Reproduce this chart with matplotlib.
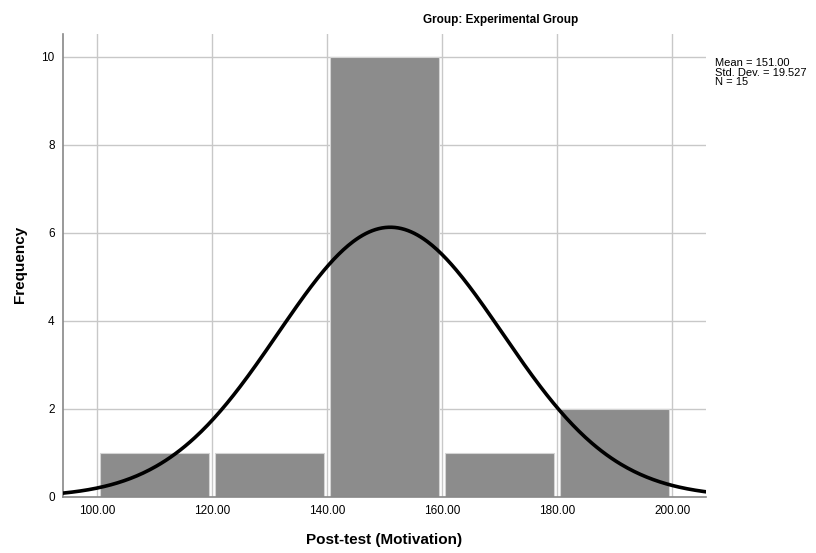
import numpy as np
import matplotlib.pyplot as plt

plt.rcParams['font.family'] = ['Liberation Sans', 'DejaVu Sans']

# histogram bins (left edges) and counts
bin_left = [100, 120, 140, 160, 180]
counts = [1, 1, 10, 1, 2]
bin_width = 20

mean = 151.00
std = 19.527
n = 15

xticks = [100, 120, 140, 160, 180, 200]
yticks = [0, 2, 4, 6, 8, 10]

fig = plt.figure(figsize=(8.16, 5.53), dpi=100)
ax = fig.add_axes([0.0772, 0.1013, 0.7880, 0.8372])

gap = 0.6
ax.bar([b + gap for b in bin_left], counts, width=bin_width - 2 * gap, align='edge',
       color='#8c8c8c', edgecolor='#d4d4d4', linewidth=0.8, zorder=2)

# normal curve scaled to the histogram
x = np.linspace(94, 206, 400)
y = n * bin_width / (std * np.sqrt(2 * np.pi)) * np.exp(-0.5 * ((x - mean) / std) ** 2)
ax.plot(x, y, color='black', linewidth=2.6, zorder=3)

ax.set_xlim(94.1, 205.9)
ax.set_ylim(0, 10.52)
ax.set_xticks(xticks)
ax.set_xticklabels([f'{t:.2f}' for t in xticks], fontsize=8.5)
ax.set_yticks(yticks)
ax.set_yticklabels([str(t) for t in yticks], fontsize=8.5)
ax.tick_params(length=0, pad=6)
ax.grid(True, color='#c8c8c8', linewidth=1.0, zorder=0)
ax.set_axisbelow(True)

for s in ['top', 'right']:
    ax.spines[s].set_visible(False)
for s in ['left', 'bottom']:
    ax.spines[s].set_color('#888888')
    ax.spines[s].set_linewidth(1.2)

# axis titles placed in figure coordinates
fig.text(0.471, 0.024, 'Post-test (Motivation)', fontsize=11, fontweight='bold',
         ha='center', va='center')
fig.text(0.025, 0.522, 'Frequency', fontsize=11, fontweight='bold',
         ha='center', va='center', rotation=90)

fig.text(0.614, 0.963, 'Group: Experimental Group', fontsize=8.5, fontweight='bold',
         ha='center', va='center')
fig.text(0.876, 0.895, f'Mean = {mean:.2f}\nStd. Dev. = {std:.3f}\nN = {n}',
         fontsize=8, va='top', ha='left', linespacing=0.95)

fig.savefig('out.png', dpi=100)
